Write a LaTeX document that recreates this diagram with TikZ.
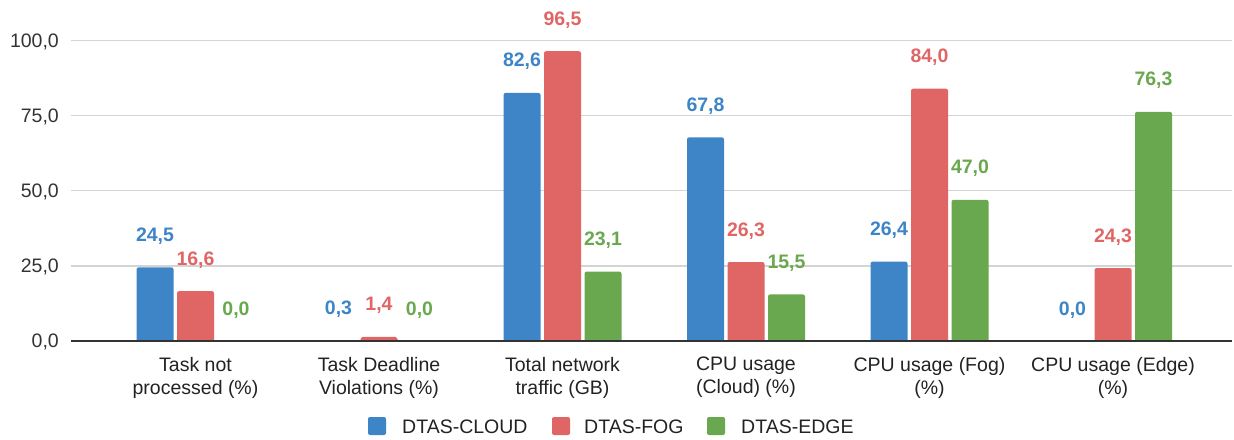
\documentclass[tikz,border=0pt]{standalone}
\usepackage{fontspec}
\setmainfont{Liberation Sans}
\definecolor{cloudblue}{HTML}{3D85C6}
\definecolor{fogred}{HTML}{E06666}
\definecolor{edgegreen}{HTML}{6AA84F}
\definecolor{gridgray}{HTML}{D4D4D4}
\definecolor{axisgray}{HTML}{333333}
\definecolor{textgray}{HTML}{222222}

\begin{document}
\begin{tikzpicture}[x=1pt,y=-1pt,
  chartfont/.style={font=\fontsize{19.5}{23}\selectfont},
  ticklabel/.style={chartfont,anchor=base east,inner sep=0pt,text=axisgray},
  catlabel/.style={chartfont,anchor=north,align=center,inner sep=0pt,text=textgray},
  vallabel/.style={font=\fontsize{19.5}{23}\selectfont\bfseries,anchor=base,inner sep=0pt},
  legendtext/.style={chartfont,anchor=base west,inner sep=0pt,text=textgray},
  gridline/.style={gridgray,line width=1.2pt},
  keybox/.style={rounded corners=2pt}
]
\useasboundingbox (0,0) rectangle (1234,439);

% grid and ticks
\foreach \v/\t in {25/{25,0},50/{50,0},75/{75,0},100/{100,0}}{
  \draw[gridline] (71,{341-\v*3.003}) -- (1232,{341-\v*3.003});
}
\foreach \v/\t [count=\k] in {0/{0,0},25/{25,0},50/{50,0},75/{75,0},100/{100,0}}{
  \node[ticklabel] (tick\k) at (59,{341-\v*3.003+6.5}) {\t};
}

% DTAS-CLOUD
\foreach \i/\v/\t in {1/24.5/{24,5},2/0.3/{0,3},3/82.6/{82,6},4/67.8/{67,8},5/26.4/{26,4},6/0.0/{0,0}}{
  \pgfmathsetmacro\rc{min(2,\v*1.4)}
  \fill[cloudblue] ({12+183.5*\i-59},341) [rounded corners=\rc pt] -- ++(0,{-\v*3.003}) -- ++(37,0) [sharp corners] -- ({12+183.5*\i-22},341) -- cycle;
  \node[vallabel,text=cloudblue] (cloud\i) at ({12+183.5*\i-40.5},{341-\v*3.003-26}) {\t};
}
% DTAS-FOG
\foreach \i/\v/\t in {1/16.6/{16,6},2/1.4/{1,4},3/96.5/{96,5},4/26.3/{26,3},5/84.0/{84,0},6/24.3/{24,3}}{
  \pgfmathsetmacro\rc{min(2,\v*1.4)}
  \fill[fogred] ({12+183.5*\i-18.5},341) [rounded corners=\rc pt] -- ++(0,{-\v*3.003}) -- ++(37,0) [sharp corners] -- ({12+183.5*\i+18.5},341) -- cycle;
  \node[vallabel,text=fogred] (fog\i) at ({12+183.5*\i},{341-\v*3.003-26}) {\t};
}
% DTAS-EDGE
\foreach \i/\v/\t in {1/0.0/{0,0},2/0.0/{0,0},3/23.1/{23,1},4/15.5/{15,5},5/47.0/{47,0},6/76.3/{76,3}}{
  \pgfmathsetmacro\rc{min(2,\v*1.4)}
  \fill[edgegreen] ({12+183.5*\i+22},341) [rounded corners=\rc pt] -- ++(0,{-\v*3.003}) -- ++(37,0) [sharp corners] -- ({12+183.5*\i+59},341) -- cycle;
  \node[vallabel,text=edgegreen] (edge\i) at ({12+183.5*\i+40.5},{341-\v*3.003-26}) {\t};
}

% zero axis
\draw[axisgray,line width=1.5pt] (71,341) -- (1232,341);

% categories
\node[catlabel] (cat1) at (195.5,357) {Task not\\processed (\%)};
\node[catlabel] (cat2) at (379,357) {Task Deadline\\Violations (\%)};
\node[catlabel] (cat3) at (562.5,357) {Total network\\traffic (GB)};
\node[catlabel] (cat4) at (746,357) {CPU usage\\(Cloud) (\%)};
\node[catlabel] (cat5) at (929.5,357) {CPU usage (Fog)\\(\%)};
\node[catlabel] (cat6) at (1113,357) {CPU usage (Edge)\\(\%)};

% legend
\fill[cloudblue,keybox] (368,417) rectangle (386,435);
\node[legendtext] (keycloud) at (402,433) {DTAS-CLOUD};
\fill[fogred,keybox] (552,417) rectangle (570,435);
\node[legendtext] (keyfog) at (584,433) {DTAS-FOG};
\fill[edgegreen,keybox] (707,417) rectangle (725,435);
\node[legendtext] (keyedge) at (741,433) {DTAS-EDGE};
\end{tikzpicture}
\end{document}
